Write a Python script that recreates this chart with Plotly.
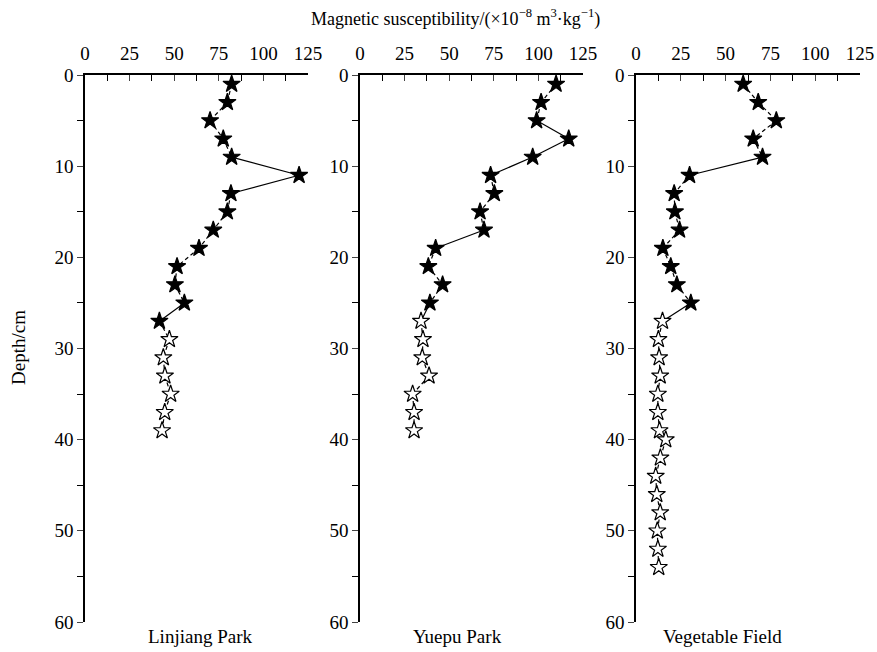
import plotly.graph_objects as go

W, H = 877, 652

# ---- data ----
depth_lj = [1,3,5,7,9,11,13,15,17,19,21,23,25,27,29,31,33,35,37,39]
ms_lj = [82.2,79.8,70.1,77.5,82.2,120,81.8,79.8,71.9,63.9,51.6,50.4,55.7,41.7,47.3,43.9,44.8,48,44.7,43.2]
filled_lj = 14  # first n points filled

depth_yp = [1,3,5,7,9,11,13,15,17,19,21,23,25,27,29,31,33,35,37,39]
ms_yp = [109.9,101.5,99,117,96.8,73.2,75.3,67.3,69.5,42.4,38.3,46.3,39.2,34.2,35.3,34.9,38.7,29.5,30.3,30.3]
filled_yp = 13

depth_vf = [1,3,5,7,9,11,13,15,17,19,21,23,25,27,29,31,33,35,37,39,40,42,44,46,48,50,52,54]
ms_vf = [59.8,68.2,78.3,65.4,70.6,29.9,21.3,21.7,24.3,15,19.4,22.8,30.6,14.8,12.5,12.9,13.5,12.2,12.2,13.1,16.6,13.6,11,11.6,13.5,11.9,12.2,12.7]
filled_vf = 13

site_names = ["Linjiang Park", "Yuepu Park", "Vegetable Field"]
x_ticks = [0, 25, 50, 75, 100, 125]
y_ticks = [0, 10, 20, 30, 40, 50, 60]

# long segments drawn solid (index of segment start)
solid_lj = {4, 5, 12}
solid_yp = {2, 3, 4, 8, 12}
solid_vf = {4, 12}

panels = [
    (depth_lj, ms_lj, filled_lj, solid_lj, 85, 308),
    (depth_yp, ms_yp, filled_yp, solid_yp, 360, 583),
    (depth_vf, ms_vf, filled_vf, solid_vf, 636, 860),
]

FONT = "Liberation Serif"
FS = 19
top_px, bot_px = 75, 622

fig = go.Figure()
layout = dict(
    width=W, height=H, margin=dict(l=0, r=0, t=0, b=0, autoexpand=False),
    paper_bgcolor="white", plot_bgcolor="white", showlegend=False,
    font=dict(family=FONT, size=FS, color="black"),
)

for k, (dep, ms, nf, solid, x0, x1) in enumerate(panels):
    idx = "" if k == 0 else str(k + 1)
    xa, ya = "x" + idx, "y" + idx
    for i in range(len(dep) - 1):
        fig.add_trace(go.Scatter(
            x=ms[i:i+2], y=dep[i:i+2], mode="lines", xaxis=xa, yaxis=ya,
            line=dict(color="black", width=1.2,
                      dash="solid" if i in solid else "4px,3px"),
            hoverinfo="skip", cliponaxis=False))
    colors = ["black" if i < nf else "white" for i in range(len(dep))]
    fig.add_trace(go.Scatter(
        x=ms, y=dep, mode="markers", xaxis=xa, yaxis=ya, cliponaxis=False,
        marker=dict(symbol="star", size=13, color=colors,
                    line=dict(color="black", width=1.2))))
    layout["xaxis" + idx] = dict(
        domain=[x0 / W, x1 / W], anchor=ya, side="top", range=[0, 125],
        tickvals=x_ticks, ticks="inside", ticklen=6, tickwidth=1.3,
        showline=True, linecolor="black", linewidth=1.5, showgrid=False,
        zeroline=False, tickfont=dict(family=FONT, size=FS), automargin=False,
        minor=dict(dtick=12.5, ticks="inside", ticklen=6, tickwidth=1.3, tickcolor="black"),
        ticklabelstandoff=6)
    layout["yaxis" + idx] = dict(
        domain=[1 - bot_px / H, 1 - top_px / H], anchor=xa, range=[60, 0],
        tickvals=y_ticks, ticks="outside", ticklen=6, tickwidth=1.3,
        showline=True, linecolor="black", linewidth=1.5, showgrid=False,
        zeroline=False, tickfont=dict(family=FONT, size=FS), automargin=False,
        minor=dict(dtick=5, ticks="outside", ticklen=6, tickwidth=1.3, tickcolor="black"))

fig.update_layout(**layout)

annots = [
    dict(x=455 / W, y=1 - 18 / H, size=18,
         text="Magnetic susceptibility/(×10<sup>−8</sup> m<sup>3</sup>·kg<sup>−1</sup>)"),
    dict(x=18 / W, y=1 - 348 / H, size=FS, text="Depth/cm", textangle=-90),
    dict(x=200 / W, y=1 - 636 / H, size=FS, text=site_names[0]),
    dict(x=457 / W, y=1 - 636 / H, size=FS, text=site_names[1]),
    dict(x=722 / W, y=1 - 636 / H, size=FS, text=site_names[2]),
]
for a in annots:
    sz = a.pop("size")
    fig.add_annotation(xref="paper", yref="paper", showarrow=False,
                       xanchor="center", yanchor="middle",
                       font=dict(family=FONT, size=sz), **a)

fig.write_html("out.html")
